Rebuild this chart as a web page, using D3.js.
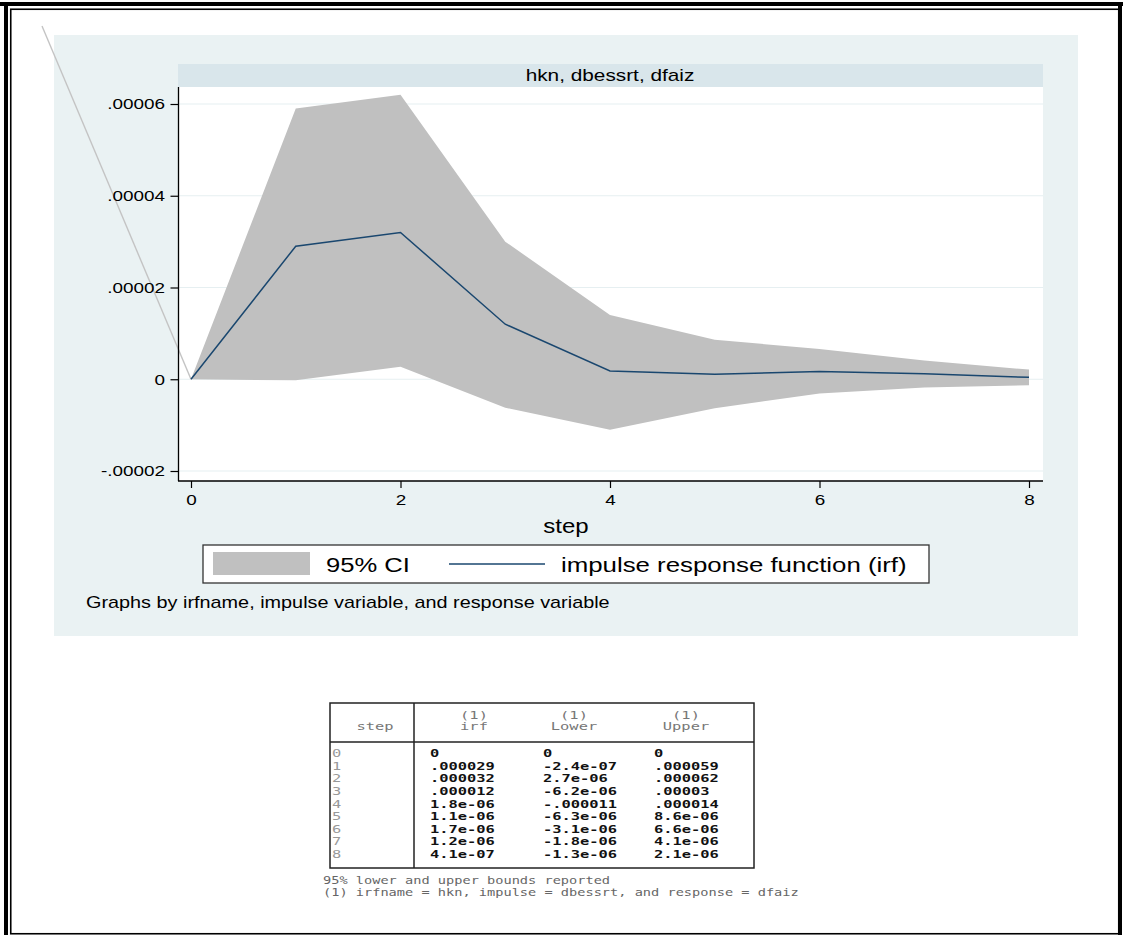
<!DOCTYPE html>
<meta charset="utf-8">
<style>
    body { margin: 0; background: #fff; }
    text { font-family: "Liberation Sans", Arial, sans-serif; fill: #000; }
    .mono { font-family: "DejaVu Sans Mono", monospace; }
</style>
<svg width="1123" height="935"></svg>
<script src="https://d3js.org/d3.v7.min.js"></script>
<script>

    // irf table: hkn, impulse = dbessrt, response = dfaiz
    var steps = [0, 1, 2, 3, 4, 5, 6, 7, 8];
    var irf = [0, 0.000029, 0.000032, 0.000012, 1.8e-6, 1.1e-6, 1.7e-6, 1.2e-6, 4.1e-7];
    var lower = [0, -2.4e-7, 2.7e-6, -6.2e-6, -0.000011, -6.3e-6, -3.1e-6, -1.8e-6, -1.3e-6];
    var upper = [0, 0.000059, 0.000062, 0.00003, 0.000014, 8.6e-6, 6.6e-6, 4.1e-6, 2.1e-6];

    var irfText = ["0", ".000029", ".000032", ".000012", "1.8e-06", "1.1e-06", "1.7e-06", "1.2e-06", "4.1e-07"];
    var lowerText = ["0", "-2.4e-07", "2.7e-06", "-6.2e-06", "-.000011", "-6.3e-06", "-3.1e-06", "-1.8e-06", "-1.3e-06"];
    var upperText = ["0", ".000059", ".000062", ".00003", ".000014", "8.6e-06", "6.6e-06", "4.1e-06", "2.1e-06"];

    var yTicks = [-0.00002, 0, 0.00002, 0.00004, 0.00006];
    var yTickLabels = ["-.00002", "0", ".00002", ".00004", ".00006"];
    var xTicks = [0, 2, 4, 6, 8];

    var svg = d3.select("svg");

    var SX = 1.22;   // the picture is a bit wider than tall, text too

    function txt(g, x, y, s, size, anchor, sx) {
        return g.append("text")
            .attr("transform", "translate(" + x + "," + y + ") scale(" + (sx || SX) + ",1)")
            .attr("text-anchor", anchor || "start")
            .style("font-size", size + "px")
            .text(s);
    }

    // page frame
    svg.append("rect").attr("x", 0).attr("y", 2).attr("width", 1123).attr("height", 4).attr("fill", "#000");
    svg.append("rect").attr("x", 4).attr("y", 2).attr("width", 4).attr("height", 933).attr("fill", "#000");
    svg.append("rect").attr("x", 1118).attr("y", 2).attr("width", 4).attr("height", 933).attr("fill", "#000");
    svg.append("rect").attr("x", 10.75).attr("y", 9.25).attr("width", 1108).attr("height", 924.5)
        .attr("fill", "none").attr("stroke", "#000").attr("stroke-width", 1.6);

    // graph background
    svg.append("rect").attr("x", 54).attr("y", 35).attr("width", 1024).attr("height", 601).attr("fill", "#eaf2f3");
    svg.append("rect").attr("x", 178).attr("y", 64).attr("width", 865).attr("height", 23).attr("fill", "#d9e6eb");
    svg.append("rect").attr("x", 178).attr("y", 87).attr("width", 865).attr("height", 394).attr("fill", "#fff");

    txt(svg, 610, 80.5, "hkn, dbessrt, dfaiz", 16, "middle", 1.3);

    var x = d3.scaleLinear().domain([0, 8]).range([191, 1029]);
    var y = d3.scaleLinear().domain([-0.00002, 0.00006]).range([471, 104]);

    // grid
    svg.append("g").selectAll("line")
        .data(yTicks)
        .enter().append("line")
        .attr("x1", 179).attr("x2", 1043)
        .attr("y1", function (d) { return y(d); })
        .attr("y2", function (d) { return y(d); })
        .attr("stroke", "#e6eff1").attr("stroke-width", 1.2);

    // stray grey line in the original screenshot
    svg.append("line")
        .attr("x1", 42).attr("y1", 26)
        .attr("x2", x(0)).attr("y2", y(0))
        .attr("stroke", "#c4c4c4").attr("stroke-width", 1.4);

    var rows = steps.map(function (s, i) {
        return {step: s, irf: irf[i], lo: lower[i], hi: upper[i]};
    });

    var area = d3.area()
        .x(function (d) { return x(d.step); })
        .y0(function (d) { return y(d.lo); })
        .y1(function (d) { return y(d.hi); });

    svg.append("path").datum(rows).attr("d", area).attr("fill", "#c0c0c0");

    var line = d3.line()
        .x(function (d) { return x(d.step); })
        .y(function (d) { return y(d.irf); });

    svg.append("path").datum(rows).attr("d", line)
        .attr("fill", "none").attr("stroke", "#1a476f").attr("stroke-width", 1.5);

    // axes
    var yAxis = svg.append("g").attr("transform", "translate(178.5,0)")
        .call(d3.axisLeft(y).tickValues(yTicks)
            .tickFormat(function (d, i) { return yTickLabels[i]; })
            .tickSize(8).tickPadding(3));
    yAxis.select(".domain").remove();
    yAxis.append("line").attr("y1", 87).attr("y2", 481).attr("stroke", "#000").attr("stroke-width", 1.3);

    var xAxis = svg.append("g").attr("transform", "translate(0,481)")
        .call(d3.axisBottom(x).tickValues(xTicks).tickFormat(d3.format("d"))
            .tickSize(7).tickPadding(6));
    xAxis.select(".domain").remove();
    xAxis.append("line").attr("x1", 178).attr("x2", 1043).attr("stroke", "#000").attr("stroke-width", 1.3);

    svg.selectAll(".tick line").attr("stroke", "#000").attr("stroke-width", 1.2);
    svg.selectAll(".tick text")
        .style("font-size", "15.5px")
        .style("font-family", '"Liberation Sans", Arial, sans-serif')
        .attr("fill", "#000")
        .attr("transform", "scale(" + SX + ",1)");

    txt(svg, 566, 533, "step", 20, "middle", 1.2);

    // legend
    var leg = svg.append("g");
    leg.append("rect").attr("x", 203).attr("y", 545).attr("width", 726).attr("height", 38)
        .attr("fill", "#fff").attr("stroke", "#333").attr("stroke-width", 1.3);
    leg.append("rect").attr("x", 213).attr("y", 552).attr("width", 97).attr("height", 23).attr("fill", "#c0c0c0");
    txt(leg, 326, 572, "95% CI", 21, "start", 1.22);
    leg.append("line").attr("x1", 449).attr("x2", 545).attr("y1", 564).attr("y2", 564)
        .attr("stroke", "#1a476f").attr("stroke-width", 1.6);
    txt(leg, 561, 572, "impulse response function (irf)", 21, "start", 1.23);

    txt(svg, 86, 608, "Graphs by irfname, impulse variable, and response variable", 16, "start", 1.24);

    // table
    var tb = svg.append("g");
    tb.append("rect").attr("x", 330).attr("y", 703).attr("width", 424).attr("height", 165)
        .attr("fill", "#fff").attr("stroke", "#222").attr("stroke-width", 1.5);
    tb.append("line").attr("x1", 414).attr("x2", 414).attr("y1", 703).attr("y2", 868)
        .attr("stroke", "#222").attr("stroke-width", 1.5);
    tb.append("line").attr("x1", 330).attr("x2", 754).attr("y1", 742).attr("y2", 742)
        .attr("stroke", "#222").attr("stroke-width", 1.5);

    var TS = 1.4;
    function mono(x0, y0, s, anchor, col, bold) {
        return txt(tb, x0, y0, s, 11, anchor, TS)
            .attr("class", "mono")
            .style("fill", col)
            .style("font-weight", bold ? "bold" : "normal");
    }

    mono(375, 730, "step", "middle", "#777");
    var heads = [["irf", 474], ["Lower", 574], ["Upper", 686]];
    heads.forEach(function (h) {
        mono(h[1], 719, "(1)", "middle", "#777");
        mono(h[1], 730, h[0], "middle", "#777");
    });

    var rowY = d3.scaleLinear().domain([0, 8]).range([757, 858]);
    steps.forEach(function (s, i) {
        mono(332, rowY(s), String(s), "start", "#999");
        mono(430, rowY(s), irfText[i], "start", "#111", true);
        mono(543, rowY(s), lowerText[i], "start", "#111", true);
        mono(654, rowY(s), upperText[i], "start", "#111", true);
    });

    txt(svg, 323, 884, "95% lower and upper bounds reported", 11, "start", 1.24).attr("class", "mono").style("fill", "#666");
    txt(svg, 323, 895.5, "(1) irfname = hkn, impulse = dbessrt, and response = dfaiz", 11, "start", 1.24).attr("class", "mono").style("fill", "#666");

</script>
